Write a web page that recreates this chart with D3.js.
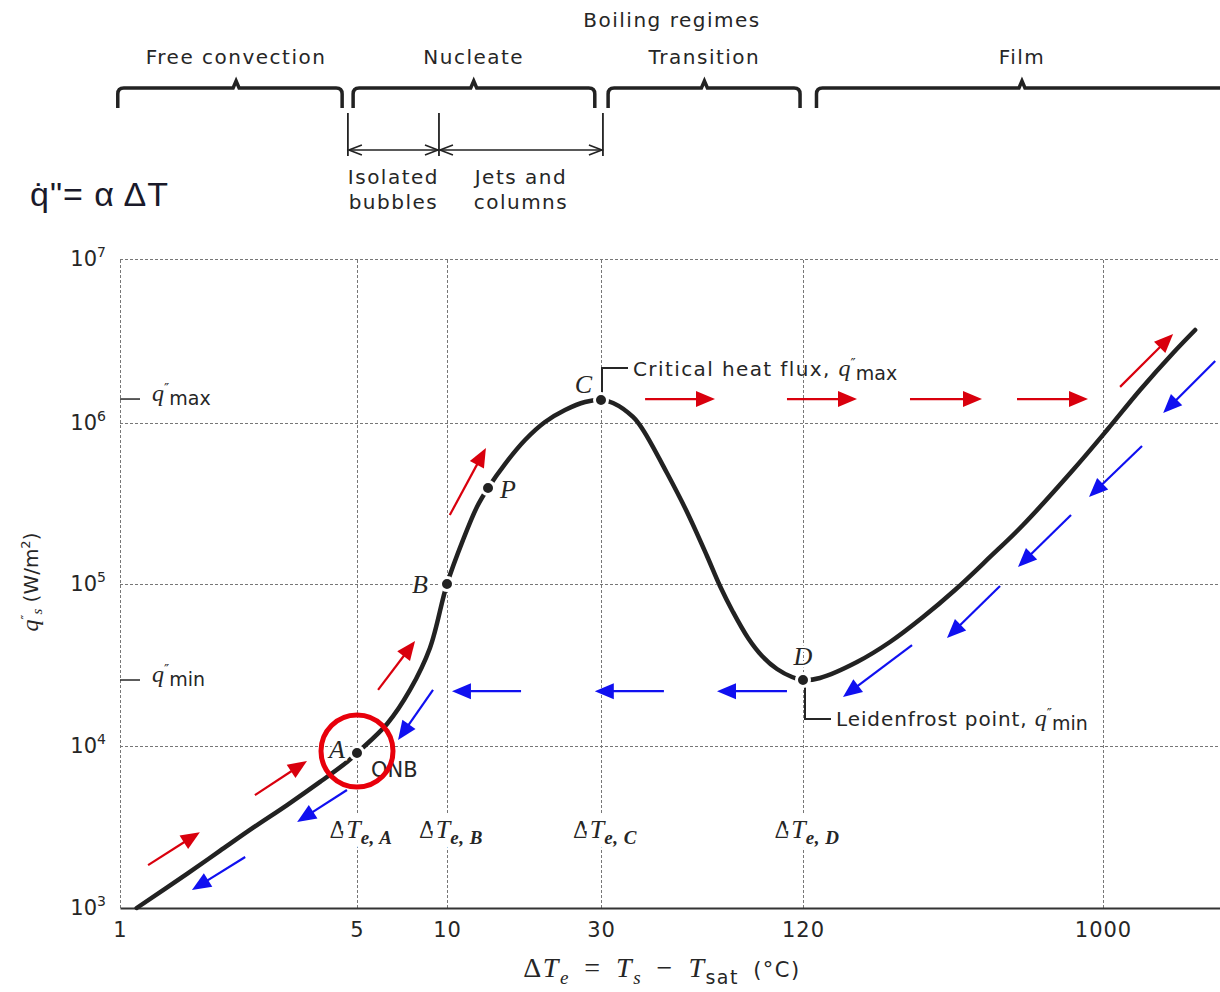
<!DOCTYPE html>
<html>
<head>
<meta charset="utf-8">
<script src="https://cdn.jsdelivr.net/npm/d3@7"></script>
<style>
  body { margin: 0; background: #fff; }
  svg { display: block; }
  .grid line { stroke: #777; stroke-dasharray: 3,2; stroke-width: 1; }
  .grid path { display: none; }
</style>
</head>
<body>
<div id="chart"></div>
<script>
// boiling curve (deltaT in degC, q in W/m2)
var curveDT = [1.12, 1.58, 1.97, 2.47, 3.11, 3.89, 4.67, 5, 6.30, 7.52, 8.77, 10, 11.21, 12.38, 13.4, 15.12, 17.45, 20.12, 23.21, 26.77, 30, 32.58, 37.37, 40.04, 47.18, 54.13, 62.09, 67.88, 74.22, 82.3, 90.6, 100.4, 111.3, 120, 135.3, 175.8, 221.9, 280.3, 351.3, 450.1, 568.1, 808.8, 1029, 1299, 1640, 1916];
var curveQ = [1000, 1630, 2250, 3130, 4320, 6000, 7965, 9060, 13670, 22170, 40270, 100000, 187600, 300800, 394700, 556300, 784200, 1.014e6, 1.2e6, 1.343e6, 1.38e6, 1.324e6, 1.088e6, 904500, 489000, 280100, 149300, 97200, 67190, 46420, 35940, 29870, 26660, 25550, 26300, 33000, 43850, 62560, 91830, 147200, 232500, 510500, 904500, 1.589e6, 2.672e6, 3.69e6];

var pointNames = ["A", "B", "P", "C", "D"];
var pointDT = [5, 10, 13.4, 30, 120];
var pointQ = [9060, 100000, 394700, 1.38e6, 25550];

var qMax = 1.4e6, qMin = 25550;

var xTicks = [1, 5, 10, 30, 120, 1000];
var yTicks = [1e3, 1e4, 1e5, 1e6, 1e7];

var regimeNames = ["Free convection", "Nucleate", "Transition", "Film"];
var regimeFrom = [0.985, 4.87, 31.5, 132];
var regimeTo = [4.52, 28.7, 117.6, 2450];
var regimeMid = [2.2, 12.1, 61, 564];

var subNames = [["Isolated", "bubbles"], ["Jets and", "columns"]];
var subFrom = [4.70, 9.40];
var subTo = [9.40, 30.4];

// heating path (red) and cooling path (blue), [dT, q] start -> end
var redFrom = [[1.21, 1840], [2.50, 4980], [5.88, 22200], [10.2, 268000], [40.6, 1.4e6], [107.5, 1.4e6], [255.6, 1.4e6], [544.6, 1.4e6], [1128, 1.66e6]];
var redTo = [[1.72, 2940], [3.56, 8080], [7.82, 44500], [13.2, 699000], [65.6, 1.4e6], [175.8, 1.4e6], [425.2, 1.4e6], [899.5, 1.4e6], [1640, 3.49e6]];
var blueFrom = [[2207, 2.39e6], [1317, 719500], [797.7, 268300], [483, 97200], [259.3, 42000], [107.5, 21800], [46.2, 21800], [16.96, 21800], [8.98, 22200], [4.67, 5350], [2.34, 2064]];
var blueTo = [[1529, 1.15e6], [905.7, 347000], [548.4, 127500], [332, 46400], [159.2, 20070], [66.5, 21800], [28.7, 21800], [10.36, 21800], [6.86, 10890], [3.33, 3396], [1.63, 1291]];

var width = 1220, height = 992;
var sans = "'DejaVu Sans', sans-serif";
var serif = "'Liberation Serif', 'DejaVu Serif', serif";
var ink = "#262626";

var svg = d3.select("#chart").append("svg")
  .attr("width", width)
  .attr("height", height)
  .style("background", "#fff");

// the scanned axes are not quite logarithmic, so the log scales are piecewise
var x = d3.scaleLog()
  .domain([1, 5, 10, 30, 120, 1000, 2450])
  .range([120, 357, 447, 601, 803, 1103, 1230]);

var y = d3.scaleLog()
  .domain([1e3, 1e4, 1e5, 1e6, 1e7])
  .range([908, 746, 584, 423, 259]);

// grid
svg.append("g")
  .attr("class", "grid")
  .attr("transform", "translate(0," + y(1e3) + ")")
  .call(d3.axisBottom(x).tickValues(xTicks).tickSize(-(y(1e3) - y(1e7))).tickFormat(""));

svg.append("g")
  .attr("class", "grid")
  .attr("transform", "translate(" + x(1) + ",0)")
  .call(d3.axisLeft(y).tickValues(yTicks.slice(1)).tickSize(-(width - x(1))).tickFormat(""));

// x axis
var xAxis = svg.append("g")
  .attr("transform", "translate(0," + y(1e3) + ")")
  .call(d3.axisBottom(x).tickValues(xTicks).tickSize(0).tickPadding(14).tickFormat(d3.format("d")));
xAxis.select(".domain").attr("stroke", "#333").attr("stroke-width", 2);
xAxis.selectAll(".tick text").attr("font-family", sans).attr("font-size", 21).attr("fill", ink).attr("letter-spacing", 1);

// y axis
var yAxis = svg.append("g")
  .attr("transform", "translate(" + x(1) + ",0)")
  .call(d3.axisLeft(y).tickValues(yTicks).tickSize(0).tickPadding(14).tickFormat(function(d) { return "10"; }));
yAxis.select(".domain").remove();
yAxis.selectAll(".tick text")
  .attr("font-family", sans).attr("font-size", 21).attr("fill", ink)
  .each(function(d) {
    var t = d3.select(this);
    t.text(null);
    t.append("tspan").text("10");
    t.append("tspan").attr("dy", -9).attr("font-size", 14).text(Math.round(Math.log10(d)));
  });

// q'' with a subscript, as used in several labels
function qLabel(sel, sub, size) {
  sel.append("tspan").attr("font-family", serif).attr("font-style", "italic").attr("font-size", size + 4).attr("letter-spacing", 0).text("q");
  sel.append("tspan").attr("font-size", size - 6).attr("dy", -8).attr("letter-spacing", 0).text("\u2033");
  sel.append("tspan").attr("font-size", size - 1).attr("dy", 12).attr("letter-spacing", 0).text(sub);
}
[[qMax, "max"], [qMin, "min"]].forEach(function(m) {
  svg.append("line")
    .attr("x1", x(1)).attr("x2", x(1) + 20)
    .attr("y1", y(m[0])).attr("y2", y(m[0]))
    .attr("stroke", ink).attr("stroke-width", 1.5);
  var t = svg.append("text")
    .attr("x", x(1) + 32).attr("y", y(m[0]) + 2)
    .attr("font-family", sans).attr("fill", ink);
  qLabel(t, m[1], 20);
});

// axis titles
var xt = svg.append("text")
  .attr("x", 662).attr("y", 977)
  .attr("text-anchor", "middle")
  .attr("font-family", serif).attr("font-size", 28).attr("letter-spacing", 1.5).attr("word-spacing", 6).attr("fill", ink);
xt.append("tspan").text("\u0394");
xt.append("tspan").attr("font-style", "italic").text("T");
xt.append("tspan").attr("font-style", "italic").attr("font-size", 19).attr("dy", 7).text("e");
xt.append("tspan").attr("dy", -7).text(" = ");
xt.append("tspan").attr("font-style", "italic").text("T");
xt.append("tspan").attr("font-style", "italic").attr("font-size", 19).attr("dy", 7).text("s");
xt.append("tspan").attr("dy", -7).text(" \u2212 ");
xt.append("tspan").attr("font-style", "italic").text("T");
xt.append("tspan").attr("font-family", sans).attr("font-size", 19).attr("dy", 7).text("sat");
xt.append("tspan").attr("font-family", sans).attr("font-size", 21).attr("dy", -7).text(" (\u00b0C)");

var yt = svg.append("text")
  .attr("transform", "translate(38,582) rotate(-90)")
  .attr("text-anchor", "middle")
  .attr("font-family", sans).attr("font-size", 20).attr("fill", ink);
yt.append("tspan").attr("font-family", serif).attr("font-style", "italic").attr("font-size", 24).text("q");
yt.append("tspan").attr("font-size", 13).attr("dy", -8).text("\u2033");
yt.append("tspan").attr("font-family", serif).attr("font-style", "italic").attr("font-size", 15).attr("dy", 12).text("s");
yt.append("tspan").attr("dy", -4).text(" (W/m");
yt.append("tspan").attr("font-size", 13).attr("dy", -8).text("2");
yt.append("tspan").attr("dy", 8).text(")");

// delta T labels under the key points
var dtSubs = ["e, A", "e, B", "e, C", "e, D"];
[5, 10, 30, 120].forEach(function(v, i) {
  var t = svg.append("text")
    .attr("x", x(v) + 4).attr("y", 838)
    .attr("text-anchor", "middle")
    .attr("font-family", serif).attr("font-size", 26).attr("fill", ink)
    .attr("stroke", "#fff").attr("stroke-width", 12).attr("paint-order", "stroke");
  t.append("tspan").text("\u0394");
  t.append("tspan").attr("font-style", "italic").text("T");
  t.append("tspan").attr("font-style", "italic").attr("font-size", 19).attr("font-weight", "bold").attr("letter-spacing", 0.5).attr("dy", 6).text(dtSubs[i]);
});

// boiling curve
var line = d3.line()
  .x(function(d, i) { return x(curveDT[i]); })
  .y(function(d, i) { return y(curveQ[i]); })
  .curve(d3.curveCatmullRom.alpha(0.5));

svg.append("path")
  .attr("d", line(curveDT))
  .attr("fill", "none")
  .attr("stroke", "#222")
  .attr("stroke-width", 4.5)
  .attr("stroke-linecap", "round");

// callouts
var cx = x(30), cy = y(qMax), dx = x(120), dy = y(qMin);
svg.append("path")
  .attr("d", "M" + (cx + 1) + "," + (cy - 4) + "V" + (cy - 31) + "H" + (cx + 27))
  .attr("fill", "none").attr("stroke", ink).attr("stroke-width", 2);
var ct = svg.append("text")
  .attr("x", cx + 32).attr("y", cy - 23)
  .attr("font-family", sans).attr("font-size", 20).attr("fill", ink).attr("letter-spacing", 1.4)
  .text("Critical heat flux, ");
qLabel(ct, "max", 20);

svg.append("path")
  .attr("d", "M" + (dx + 2) + "," + (dy + 4) + "V" + (dy + 39) + "H" + (dx + 28))
  .attr("fill", "none").attr("stroke", ink).attr("stroke-width", 2);
var dtx = svg.append("text")
  .attr("x", dx + 33).attr("y", dy + 46)
  .attr("font-family", sans).attr("font-size", 20).attr("fill", ink).attr("letter-spacing", 0.9)
  .attr("stroke", "#fff").attr("stroke-width", 6).attr("paint-order", "stroke")
  .text("Leidenfrost point, ");
qLabel(dtx, "min", 20);

// key points
svg.selectAll("circle.pt")
  .data(pointNames)
  .enter().append("circle")
  .attr("class", "pt")
  .attr("cx", function(d, i) { return x(pointDT[i]); })
  .attr("cy", function(d, i) { return y(pointQ[i]); })
  .attr("r", 6.5)
  .attr("fill", "#222")
  .attr("stroke", "#fff")
  .attr("stroke-width", 3);

var labelOff = { A: [-12, 5, "end"], B: [-19, 9, "end"], P: [12, 10, "start"], C: [-9, -7, "end"], D: [0, -15, "middle"] };
svg.selectAll("text.pt")
  .data(pointNames)
  .enter().append("text")
  .attr("class", "pt")
  .attr("x", function(d, i) { return x(pointDT[i]) + labelOff[d][0]; })
  .attr("y", function(d, i) { return y(pointQ[i]) + labelOff[d][1]; })
  .attr("text-anchor", function(d) { return labelOff[d][2]; })
  .attr("font-family", serif).attr("font-style", "italic").attr("font-size", 26).attr("fill", ink)
  .attr("stroke", "#fff").attr("stroke-width", 5).attr("paint-order", "stroke")
  .text(function(d) { return d; });

svg.append("text")
  .attr("x", x(5) + 14).attr("y", y(9060) + 24)
  .attr("font-family", sans).attr("font-size", 21).attr("fill", ink)
  .text("ONB");

// red ring around the onset of nucleate boiling
svg.append("circle")
  .attr("cx", x(5)).attr("cy", y(9060) - 2)
  .attr("r", 36)
  .attr("fill", "none")
  .attr("stroke", "#e8000b")
  .attr("stroke-width", 5);

// heating / cooling arrows
function arrow(p0, p1, color) {
  var x0 = x(p0[0]), y0 = y(p0[1]), x1 = x(p1[0]), y1 = y(p1[1]);
  var a = Math.atan2(y1 - y0, x1 - x0);
  var L = 19, W = 8;
  var bx = x1 - L * Math.cos(a), by = y1 - L * Math.sin(a);
  svg.append("line")
    .attr("x1", x0).attr("y1", y0)
    .attr("x2", bx + 3 * Math.cos(a)).attr("y2", by + 3 * Math.sin(a))
    .attr("stroke", color).attr("stroke-width", 2.2);
  svg.append("path")
    .attr("d", "M" + x1 + "," + y1 +
      "L" + (bx + W * Math.sin(a)) + "," + (by - W * Math.cos(a)) +
      "L" + (bx - W * Math.sin(a)) + "," + (by + W * Math.cos(a)) + "Z")
    .attr("fill", color);
}
redFrom.forEach(function(p, i) { arrow(p, redTo[i], "#d9000d"); });
blueFrom.forEach(function(p, i) { arrow(p, blueTo[i], "#1010f0"); });

// formula
svg.append("text")
  .attr("x", 30).attr("y", 206)
  .attr("font-family", "'Liberation Sans', Arial, sans-serif").attr("font-size", 34)
  .attr("letter-spacing", 1).attr("fill", "#1a1a2a")
  .text("q\u0307\"= \u03b1 \u0394T");

// boiling regimes header
svg.append("text")
  .attr("x", 672).attr("y", 27)
  .attr("text-anchor", "middle")
  .attr("font-family", sans).attr("font-size", 20).attr("letter-spacing", 1.5).attr("fill", ink)
  .text("Boiling regimes");

regimeNames.forEach(function(name, i) {
  var x0 = x(regimeFrom[i]), x1 = x(regimeTo[i]), xc = x(regimeMid[i]);
  var yb = 88;
  svg.append("path")
    .attr("d", "M" + x0 + "," + (yb + 20) + "V" + (yb + 6) + "Q" + x0 + "," + yb + " " + (x0 + 6) + "," + yb +
      "H" + (xc - 3) + "L" + xc + "," + (yb - 7) + "L" + (xc + 3) + "," + yb +
      "H" + (x1 - 6) + "Q" + x1 + "," + yb + " " + x1 + "," + (yb + 6) + "V" + (yb + 20))
    .attr("fill", "none").attr("stroke", "#222").attr("stroke-width", 3.5);
  svg.append("text")
    .attr("x", xc).attr("y", 64)
    .attr("text-anchor", "middle")
    .attr("font-family", sans).attr("font-size", 20).attr("letter-spacing", 1.5).attr("fill", ink)
    .text(name);
});

// nucleate sub-regimes
[subFrom[0], subTo[0], subTo[1]].forEach(function(v) {
  svg.append("line")
    .attr("x1", x(v)).attr("x2", x(v))
    .attr("y1", 113).attr("y2", 156)
    .attr("stroke", "#222").attr("stroke-width", 1.8);
});
function chevron(px, py, dir) {
  svg.append("path")
    .attr("d", "M" + (px + dir * 13) + "," + (py - 5) + "L" + px + "," + py + "L" + (px + dir * 13) + "," + (py + 5))
    .attr("fill", "none").attr("stroke", "#222").attr("stroke-width", 1.6);
}
subNames.forEach(function(names, i) {
  var x0 = x(subFrom[i]) + 1, x1 = x(subTo[i]) - 1;
  svg.append("line")
    .attr("x1", x0).attr("x2", x1)
    .attr("y1", 150).attr("y2", 150)
    .attr("stroke", "#222").attr("stroke-width", 1.6);
  chevron(x0, 150, 1);
  chevron(x1, 150, -1);
  names.forEach(function(n, j) {
    svg.append("text")
      .attr("x", (x0 + x1) / 2).attr("y", 184 + j * 25)
      .attr("text-anchor", "middle")
      .attr("font-family", sans).attr("font-size", 20).attr("letter-spacing", 1.5).attr("fill", ink)
      .text(n);
  });
});
</script>
</body>
</html>
